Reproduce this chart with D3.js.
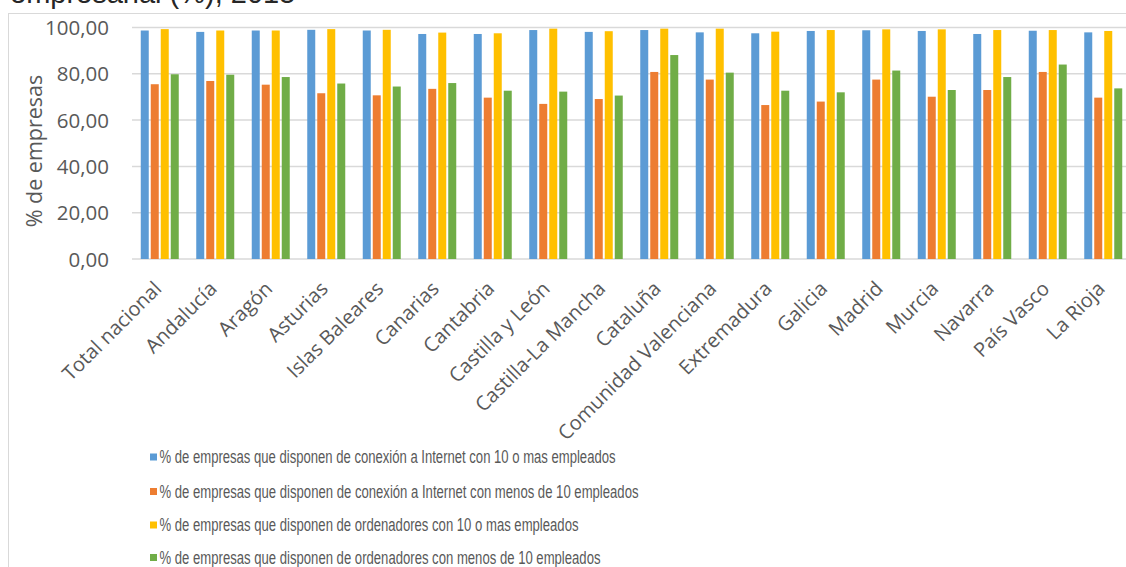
<!DOCTYPE html>
<html>
<head>
<meta charset="utf-8">
<script src="https://cdn.jsdelivr.net/npm/d3@7/dist/d3.min.js"></script>
<style>
  html, body { margin: 0; padding: 0; background: #fff; }
  svg { display: block; }
</style>
</head>
<body>
<svg id="chart" width="1126" height="567"></svg>
<script>
// Regions
const categories = [
  "Total nacional", "Andalucía", "Aragón", "Asturias", "Islas Baleares",
  "Canarias", "Cantabria", "Castilla y León", "Castilla-La Mancha", "Cataluña",
  "Comunidad Valenciana", "Extremadura", "Galicia", "Madrid", "Murcia",
  "Navarra", "País Vasco", "La Rioja"
];

// Series values (% de empresas)
const internet10 = [98.7, 98.1, 98.7, 99.0, 98.7, 97.2, 97.2, 98.9, 98.1, 98.9, 97.9, 97.5, 98.5, 98.8, 98.5, 97.2, 98.6, 97.9];
const internetMenos10 = [75.5, 76.9, 75.3, 71.6, 70.7, 73.5, 69.7, 67.0, 69.1, 80.8, 77.5, 66.5, 68.0, 77.5, 70.1, 73.0, 80.8, 69.7];
const ordenadores10 = [99.3, 98.7, 98.7, 99.3, 99.0, 97.8, 97.5, 99.5, 98.4, 99.5, 99.5, 98.2, 98.9, 99.2, 99.2, 98.9, 98.9, 98.5];
const ordenadoresMenos10 = [79.8, 79.6, 78.6, 75.8, 74.5, 76.0, 72.7, 72.3, 70.6, 88.1, 80.5, 72.7, 72.0, 81.4, 73.0, 78.6, 84.0, 73.7];

const seriesNames = [
  "% de empresas que disponen de conexión a Internet con 10 o mas empleados",
  "% de empresas que disponen de conexión a Internet con menos de 10 empleados",
  "% de empresas que disponen de ordenadores con 10 o mas empleados",
  "% de empresas que disponen de ordenadores con menos de 10 empleados"
];
const seriesValues = [internet10, internetMenos10, ordenadores10, ordenadoresMenos10];
const seriesColors = ["#5b9bd5", "#ed7d31", "#ffc000", "#70ad47"];

const yTicks = [0, 20, 40, 60, 80, 100];
const titleText = "empresarial (%), 2015";
const yAxisTitle = "% de empresas";

const svg = d3.select("#chart");
const textColor = "#595959";
const gridColor = "#d9d9d9";

const locale = d3.formatLocale({ decimal: ",", thousands: ".", grouping: [3], currency: ["", "€"] });
const fmt = locale.format(".2f");

// Chart area frame
svg.append("rect")
  .attr("x", 8.5).attr("y", 13.5)
  .attr("width", 1140).attr("height", 600)
  .attr("fill", "none").attr("stroke", gridColor).attr("stroke-width", 1);

// Title (second line of a longer heading)
svg.append("text")
  .attr("x", 10).attr("y", 3)
  .attr("font-family", "Liberation Sans, Arial, sans-serif")
  .attr("font-size", 29)
  .attr("fill", "#262626")
  .text(titleText);

const plot = { left: 132, right: 1131, top: 27.5, bottom: 259 };

const x0 = d3.scaleBand().domain(categories).range([plot.left, plot.right]).padding(0);
const x1 = d3.scaleBand().domain(d3.range(seriesValues.length)).range([-20, 20]).padding(0);
const y = d3.scaleLinear().domain([0, 100]).range([plot.bottom, plot.top]);

// Gridlines
svg.append("g")
  .selectAll("line")
  .data(yTicks)
  .join("line")
  .attr("x1", plot.left).attr("x2", 1126)
  .attr("y1", d => y(d)).attr("y2", d => y(d))
  .attr("stroke", gridColor).attr("stroke-width", 1.5);

// Y axis labels
const yAxis = d3.axisLeft(y).tickValues(yTicks).tickFormat(fmt).tickSize(0).tickPadding(0);
const yg = svg.append("g").attr("transform", "translate(109,0)").call(yAxis);
yg.select(".domain").remove();
yg.selectAll("text")
  .attr("font-family", "Open Sans, sans-serif")
  .attr("font-size", 20.5)
  .attr("fill", textColor)
  .attr("dy", "0.35em");

// Y axis title
svg.append("text")
  .attr("transform", `translate(42,151) rotate(-90)`)
  .attr("text-anchor", "middle")
  .attr("font-family", "Open Sans, sans-serif")
  .attr("font-size", 21.5)
  .attr("fill", textColor)
  .text(yAxisTitle);

// Bars
const groups = svg.append("g")
  .selectAll("g")
  .data(categories)
  .join("g")
  .attr("transform", d => `translate(${x0(d) + x0.bandwidth() / 2},0)`);

groups.selectAll("rect")
  .data((d, i) => seriesValues.map((vals, s) => ({ s, v: vals[i] })))
  .join("rect")
  .attr("x", d => x1(d.s) + 1)
  .attr("width", x1.bandwidth() - 2)
  .attr("y", d => y(d.v))
  .attr("height", d => y(0) - y(d.v))
  .attr("fill", d => seriesColors[d.s]);

// X axis category labels
const xAxis = d3.axisBottom(x0).tickSize(0).tickPadding(0);
const xg = svg.append("g").attr("transform", `translate(0,${plot.bottom})`).call(xAxis);
xg.select(".domain").remove();
xg.selectAll("text")
  .attr("font-family", "Open Sans, sans-serif")
  .attr("font-size", 20)
  .attr("fill", textColor)
  .attr("text-anchor", "end")
  .attr("dy", "0.35em")
  .attr("transform", "translate(-2,26) rotate(-45)");

// Legend
const legendRows = [457, 491.5, 525, 557.5];
const legendWidths = [456, 479, 419, 441];
const legend = svg.append("g")
  .selectAll("g")
  .data(seriesNames)
  .join("g")
  .attr("transform", (d, i) => `translate(150,${legendRows[i]})`);

legend.append("rect")
  .attr("x", 0).attr("y", -3.5)
  .attr("width", 7).attr("height", 7)
  .attr("fill", (d, i) => seriesColors[i]);

legend.append("text")
  .attr("x", 9.5)
  .attr("dy", "0.35em")
  .attr("font-family", "Liberation Sans, Arial, sans-serif")
  .attr("font-size", 17.5)
  .attr("fill", textColor)
  .attr("textLength", (d, i) => legendWidths[i])
  .attr("lengthAdjust", "spacingAndGlyphs")
  .text(d => d);
</script>
</body>
</html>
